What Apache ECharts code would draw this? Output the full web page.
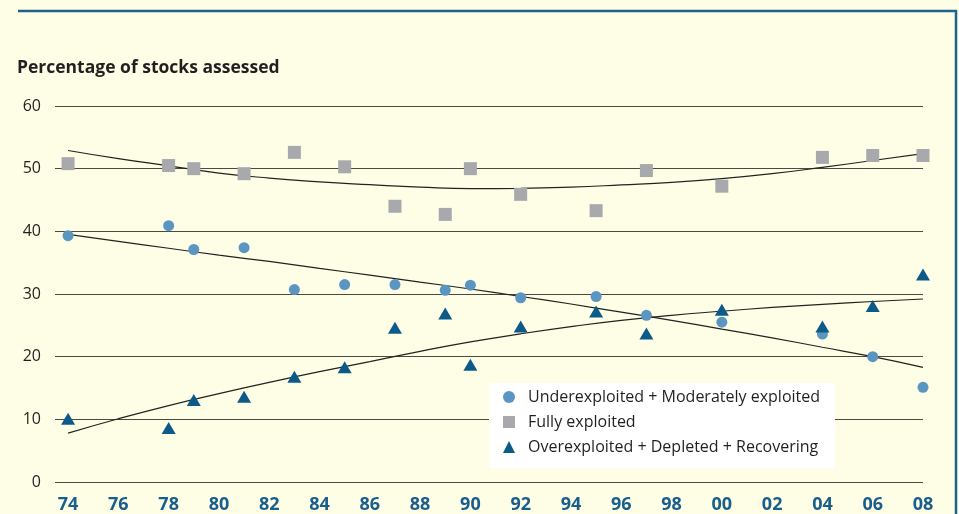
<!DOCTYPE html>
<html>
<head>
<meta charset="utf-8">
<script src="https://cdn.jsdelivr.net/npm/echarts@6/dist/echarts.min.js"></script>
<style>
html,body{margin:0;padding:0;background:#FEFEE6;}
#chart{width:959px;height:514px;}
</style>
</head>
<body>
<div id="chart"></div>
<script>
// Observed data points
const years = [1974,1978,1979,1981,1983,1985,1987,1989,1990,1992,1995,1997,2000,2004,2006,2008];
const under = [39.3,40.9,37.1,37.4,30.7,31.5,31.5,30.6,31.4,29.4,29.6,26.6,25.5,23.6,20.0,15.1];
const fully = [50.8,50.5,50.0,49.2,52.6,50.3,44.0,42.7,50.0,45.9,43.3,49.7,47.2,51.8,52.1,52.1];
const over  = [10.1,8.6,13.1,13.6,16.8,18.3,24.6,26.9,18.7,24.8,27.2,23.7,27.5,24.8,28.1,33.1];

// Trend curves
const trendYears = [1974,1976,1978,1980,1982,1984,1986,1988,1990,1992,1994,1996,1998,2000,2002,2004,2006,2008];
const underTrend = [39.5,38.4,37.3,36.2,35.2,34.1,33.0,31.9,30.8,29.6,28.4,27.1,25.8,24.4,23.0,21.5,20.0,18.3];
const fullyTrend = [52.9,51.6,50.45,49.3,48.5,47.9,47.45,47.05,46.8,46.85,47.05,47.4,47.8,48.4,49.2,50.2,51.3,52.4];
const overTrend  = [7.8,10.1,12.2,14.1,15.9,17.6,19.2,20.85,22.35,23.65,24.8,25.8,26.6,27.25,27.85,28.35,28.8,29.2];

// Tick labels
const xTicks = [1974,1976,1978,1980,1982,1984,1986,1988,1990,1992,1994,1996,1998,2000,2002,2004,2006,2008];
const yTicks = [0,10,20,30,40,50,60];

const names = ['Underexploited + Moderately exploited','Fully exploited','Overexploited + Depleted + Recovering'];
const colors = ['#5B96C2','#A8A9AD','#0B5A88'];
const FONT = '"Open Sans", "Noto Sans", sans-serif';

const pair = (xs, ys) => xs.map((x, i) => [x, ys[i]]);

const chart = echarts.init(document.getElementById('chart'), null, {renderer:'canvas'});
chart.setOption({
  backgroundColor: '#FEFEE6',
  animation: false,
  title: {
    text: 'Percentage of stocks assessed',
    left: 12, top: 54,
    textStyle: {fontFamily: FONT, fontSize: 17.5, fontWeight: 'bold', color: '#231F20'}
  },
  graphic: [
    {type:'line', shape:{x1:18,y1:11,x2:957,y2:11}, style:{stroke:'#1D6291', lineWidth:2.5}},
    {type:'line', shape:{x1:956,y1:10,x2:956,y2:514}, style:{stroke:'#1D6291', lineWidth:2.5}}
  ],
  grid: {left: 55, right: 36, top: 106, bottom: 31, containLabel: false},
  xAxis: {
    type: 'value',
    min: 1973.48, max: 2008,
    axisLine: {show: false},
    axisTick: {show: false},
    splitLine: {show: false},
    axisLabel: {
      customValues: xTicks,
      margin: 14,
      fontFamily: FONT, fontSize: 18, fontWeight: 'bold', color: '#1A5E8C',
      formatter: v => String(v).slice(2)
    }
  },
  yAxis: {
    type: 'value',
    min: 0, max: 60, interval: 10,
    axisLine: {show: false},
    axisTick: {show: false},
    splitLine: {show: true, lineStyle: {color: '#4A4A40', width: 1}},
    axisLabel: {margin: 14, fontFamily: FONT, fontSize: 16, color: '#231F20',
      customValues: yTicks}
  },
  legend: {
    orient: 'vertical',
    left: 489, top: 383,
    backgroundColor: '#FFFFFF',
    padding: [6, 15, 13, 14],
    itemWidth: 12, itemHeight: 12,
    itemGap: 9,
    data: [
      {name: names[0], icon: 'circle'},
      {name: names[1], icon: 'rect'},
      {name: names[2], icon: 'triangle'}
    ],
    textStyle: {fontFamily: FONT, fontSize: 16, color: '#231F20', padding: [0,0,0,8]}
  },
  series: [
    {type:'line', name:'t0', data: pair(trendYears, underTrend), smooth: true, symbol:'none', z: 1,
      lineStyle:{color:'#222', width:1.2}, silent:true},
    {type:'line', name:'t1', data: pair(trendYears, fullyTrend), smooth: true, symbol:'none', z: 1,
      lineStyle:{color:'#222', width:1.2}, silent:true},
    {type:'line', name:'t2', data: pair(trendYears, overTrend), smooth: true, symbol:'none', z: 1,
      lineStyle:{color:'#222', width:1.2}, silent:true},
    {type:'scatter', name: names[0], data: pair(years, under), symbol:'circle', symbolSize: 11, z: 3,
      itemStyle:{color: colors[0], opacity: 1}},
    {type:'scatter', name: names[1], data: pair(years, fully), symbol:'rect', symbolSize: 13, z: 3,
      itemStyle:{color: colors[1], opacity: 1}},
    {type:'scatter', name: names[2], data: pair(years, over), symbol:'triangle', symbolSize: [14,12], z: 3,
      itemStyle:{color: colors[2], opacity: 1}}
  ]
});
</script>
</body>
</html>
